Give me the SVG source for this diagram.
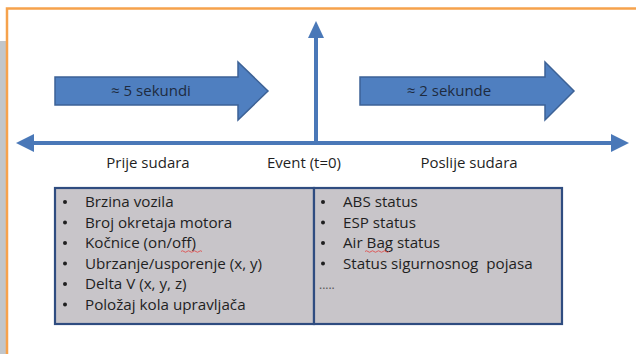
<svg xmlns="http://www.w3.org/2000/svg" width="636" height="354" viewBox="0 0 636 354">
<style>
.ax{stroke:#4a78b8;stroke-width:4;fill:none}
.head{fill:#4a78b8}
.big{fill:#4f7fc0;stroke:#3d6296;stroke-width:1.5}
.t{font-family:"Open Sans","Liberation Sans",sans-serif;fill:#1f1f1f}
.bt{font-size:15px;fill:#1e2b3f}
.lbl{font-size:15px;text-anchor:middle}
.li{font-size:15.2px}
.dot{fill:#1f1f1f}
.cell{fill:#c8c5c9;stroke:#2f4c80;stroke-width:2.2}
.sq{fill:none;stroke:#e05050;stroke-width:0.9}
</style>
<rect x="0" y="0" width="636" height="354" fill="#ffffff"/>
<rect x="0" y="41" width="6" height="313" fill="#c2c6ca"/>
<path d="M7 354 V8.5 H636" fill="none" stroke="#f6a24c" stroke-width="2.5"/>

<g id="connectors">
  <line class="ax" x1="30" y1="143" x2="614" y2="143"/>
  <polygon class="head" points="16,143 34,134 34,152"/>
  <polygon class="head" points="629,143 611,134 611,152"/>
  <line class="ax" x1="316" y1="143" x2="316" y2="34"/>
  <polygon class="head" points="316,21 308,38 324,38"/>
</g>

<g id="arrow-before">
  <polygon class="big" points="55,77 238,77 238,62 268,91 238,120 238,105 55,105"/>
  <text class="t bt" x="151" y="96" text-anchor="middle">≈ 5 sekundi</text>
</g>
<g id="arrow-after">
  <polygon class="big" points="360,77 545,77 545,62 574,91 545,120 545,105 360,105"/>
  <text class="t bt" x="449" y="96" text-anchor="middle">≈ 2 sekunde</text>
</g>

<g id="label-before"><text class="t lbl" x="148" y="168">Prije sudara</text></g>
<g id="label-event"><text class="t lbl" x="304" y="168">Event (t=0)</text></g>
<g id="label-after"><text class="t lbl" x="469" y="168">Poslije sudara</text></g>

<g id="list-before">
  <rect class="cell" x="55" y="188" width="259" height="136"/>
  <g class="dot">
    <circle cx="65" cy="202" r="2"/><circle cx="65" cy="222.5" r="2"/><circle cx="65" cy="243" r="2"/>
    <circle cx="65" cy="263.5" r="2"/><circle cx="65" cy="284" r="2"/><circle cx="65" cy="304.5" r="2"/>
  </g>
  <g class="t li">
    <text x="85" y="207">Brzina vozila</text>
    <text x="85" y="227.5">Broj okretaja motora</text>
    <text x="85" y="248">Kočnice (on/off)</text>
    <text x="85" y="268.5">Ubrzanje/usporenje (x, y)</text>
    <text x="85" y="289">Delta V (x, y, z)</text>
    <text x="85" y="309.5">Položaj kola upravljača</text>
  </g>
  <path class="sq" d="M181 251.5 q1.5 -1.5 3 0 t3 0 t3 0 t3 0 t3 0 t3 0 t3 0"/>
</g>
<g id="list-after">
  <rect class="cell" x="314" y="188" width="248" height="136"/>
  <g class="dot">
    <circle cx="323" cy="202" r="2"/><circle cx="323" cy="222.5" r="2"/><circle cx="323" cy="243" r="2"/>
    <circle cx="323" cy="263.5" r="2"/>
  </g>
  <g class="t li">
    <text x="343" y="207">ABS status</text>
    <text x="343" y="227.5">ESP status</text>
    <text x="343" y="248">Air Bag status</text>
    <text x="343" y="268.5" xml:space="preserve">Status sigurnosnog  pojasa</text>
    <text x="319" y="289" font-size="12" fill="#555">.....</text>
  </g>
  <path class="sq" d="M365 251.5 q1.5 -1.5 3 0 t3 0 t3 0 t3 0 t3 0 t3 0 t3 0 t3 0"/>
</g>
</svg>
